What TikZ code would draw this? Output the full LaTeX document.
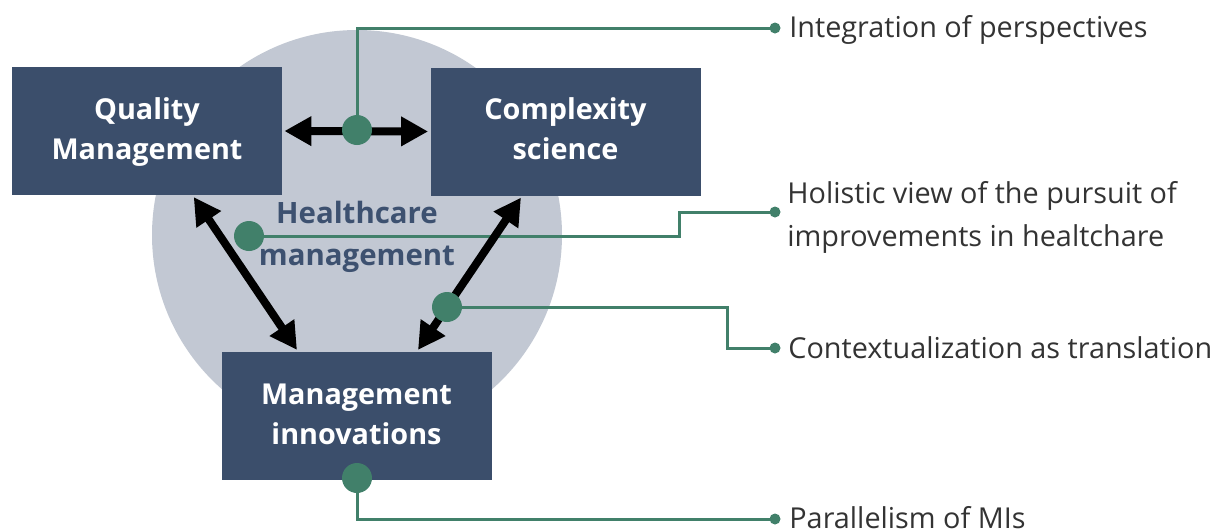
\documentclass[tikz,border=0pt]{standalone}
\usepackage{fontspec}
\setmainfont{Open Sans}
\usetikzlibrary{arrows.meta,calc}
\definecolor{boxblue}{HTML}{3B4E6B}
\definecolor{hcblue}{HTML}{3D5170}
\definecolor{disc}{HTML}{C2C8D3}
\definecolor{leaf}{HTML}{41806A}
\definecolor{ink}{HTML}{333333}
\tikzset{
  stepbox/.style={fill=boxblue, text=white, font=\bfseries\fontsize{14.4}{20}\selectfont,
    minimum width=135pt, minimum height=64pt, inner sep=0pt, align=center},
  bi/.style={line width=4pt, {Triangle[length=13.5pt,width=14pt]}-{Triangle[length=13.5pt,width=14pt]},
    shorten <=1pt, shorten >=1pt},
  gline/.style={draw=leaf, line width=1.5pt},
  bigdot/.style={circle, fill=leaf, minimum size=15pt, inner sep=0pt},
  tipdot/.style={circle, fill=leaf, minimum size=5.5pt, inner sep=0pt},
  lbl/.style={text=ink, font=\fontsize{14.4}{21.5}\selectfont, anchor=west, align=left, inner sep=0pt}
}
\begin{document}
\begin{tikzpicture}[x=0.5pt,y=-0.5pt]
\useasboundingbox (0,0) rectangle (1223,531);

% background disc for healthcare management
\fill[disc] (357,235) circle (102.5pt);

% the three fields
\node[stepbox] (Q) at (147,131) {Quality\strut\\Management\strut};
\node[stepbox] (C) at (565.5,131.5) {Complexity\strut\\science\strut};
\node[stepbox] (M) at (356.5,416) {Management\strut\\innovations\strut};

\node[text=hcblue, font=\bfseries\fontsize{14.7}{21}\selectfont, align=center] (H) at (357,237) {Healthcare\\management};

% anchor points of the callouts
\coordinate (d1) at (357,130);
\coordinate (d2) at (249,236);
\coordinate (d3) at (447,307);
\coordinate (d4) at (357,478);
\coordinate (e1) at (775,28);
\coordinate (e2) at (775,212);
\coordinate (e3) at (775,348);
\coordinate (e4) at (775,519);
\coordinate (k2) at (679,212);
\coordinate (k3) at (727,348);

% callout lines
\draw[gline] (d1) |- (e1);
\draw[gline] (d2) -- (d2 -| k2) -- (k2) -- (e2);
\draw[gline] (d3) -- (d3 -| k3) -- (k3) -- (e3);
\draw[gline] (d4) |- (e4);

% two-way relations
\draw[bi] (Q.east) -- (C.west);
\draw[bi] ($(Q.south west)+(181,0)$) -- ($(M.north west)+(77,0)$);
\draw[bi] ($(C.south west)+(92,0)$) -- ($(M.north east)+(-75,0)$);

% callout dots
\foreach \p in {d1,d2,d3,d4} \node[bigdot] at (\p) {};
\foreach \p in {e1,e2,e3,e4} \node[tipdot] at (\p) {};

% callout texts
\node[lbl] (t1) at (789,30) {Integration of perspectives};
\node[lbl] (t2) at (787,217) {Holistic view of the pursuit of\\improvements in healtchare};
\node[lbl] (t3) at (788,348) {Contextualization as translation};
\node[lbl] (t4) at (789,518) {Parallelism of MIs};
\end{tikzpicture}
\end{document}
